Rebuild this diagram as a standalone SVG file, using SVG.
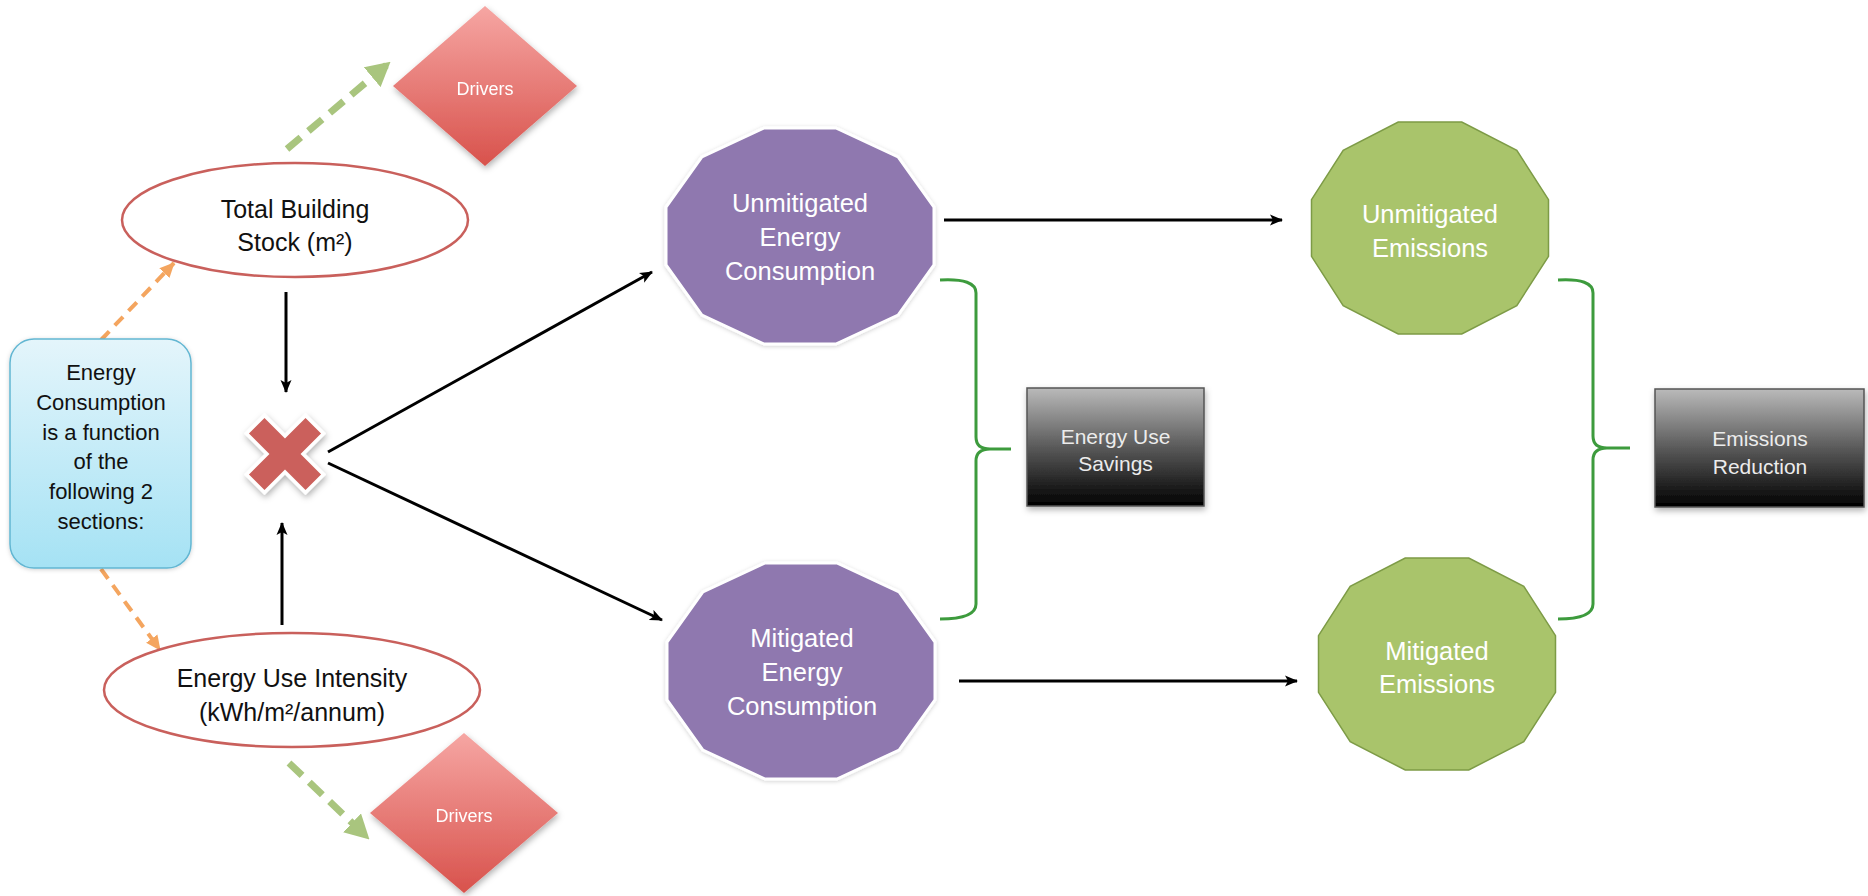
<svg xmlns="http://www.w3.org/2000/svg" xmlns:xlink="http://www.w3.org/1999/xlink" width="1868" height="896" viewBox="0 0 1868 896">
<defs>
  <style>
    .t { font-family: "Liberation Sans", Arial, sans-serif; text-anchor: middle; }
    .dark { fill: #111; font-size: 25px; }
    .blue { fill: #111; font-size: 22px; }
    .white { fill: #ffffff; font-size: 25.5px; }
    .drv { fill: #ffffff; font-size: 18px; }
    .box { fill: #ececec; font-size: 21px; }
    .ell { fill: #ffffff; stroke: #c9605c; stroke-width: 2.5; }
    .blk { stroke: #000; stroke-width: 3; fill: none; }
    .org { stroke: #f4a55f; stroke-width: 4; stroke-dasharray: 12 8; fill: none; }
    .grn { stroke: #a9c57e; stroke-width: 7; stroke-dasharray: 18 10; fill: none; }
    .brace { stroke: #3d9b3d; stroke-width: 3; fill: none; stroke-linejoin: round; }
    .purple { fill: #8f78af; stroke: #ffffff; stroke-width: 3; }
    .green { fill: #a9c46b; stroke: #7d9b46; stroke-width: 1.5; }
  </style>
  <linearGradient id="gDrv" x1="0" y1="0" x2="0" y2="1">
    <stop offset="0" stop-color="#f6a6a3"/>
    <stop offset="1" stop-color="#d8524c"/>
  </linearGradient>
  <linearGradient id="gBlue" x1="0" y1="0" x2="0" y2="1">
    <stop offset="0" stop-color="#e4f5fb"/>
    <stop offset="1" stop-color="#a5e2f4"/>
  </linearGradient>
  <linearGradient id="gBlack" x1="0" y1="0" x2="0" y2="1">
    <stop offset="0" stop-color="#bababa"/>
    <stop offset="0.5" stop-color="#5a5a5a"/>
    <stop offset="1" stop-color="#000000"/>
  </linearGradient>
  <filter id="shadow" x="-20%" y="-20%" width="140%" height="140%">
    <feDropShadow dx="1" dy="3" stdDeviation="3" flood-color="#000" flood-opacity="0.3"/>
  </filter>
  <filter id="soft" x="-20%" y="-20%" width="140%" height="140%">
    <feDropShadow dx="0" dy="1" stdDeviation="2" flood-color="#000" flood-opacity="0.18"/>
  </filter>
  <marker id="aBlk" markerUnits="userSpaceOnUse" markerWidth="14" markerHeight="12" refX="12" refY="6" orient="auto">
    <path d="M0,0.5 L13,6 L0,11.5 L3,6 z" fill="#000"/>
  </marker>
  <marker id="aOrg" markerUnits="userSpaceOnUse" markerWidth="16" markerHeight="16" refX="14" refY="8" orient="auto">
    <path d="M0,1 L15,8 L0,15 z" fill="#f4a55f"/>
  </marker>
  <marker id="aGrn" markerUnits="userSpaceOnUse" markerWidth="24" markerHeight="26" refX="22" refY="13" orient="auto">
    <path d="M0,0 L24,13 L0,26 z" fill="#a9c57e"/>
  </marker>
  <polygon id="dodecP" points="134,28.9 98.1,79.1 35.9,108 -35.9,108 -98.1,79.1 -134,28.9 -134,-28.9 -98.1,-79.1 -35.9,-108 35.9,-108 98.1,-79.1 134,-28.9"/>
  <polygon id="dodecG" points="118.5,28.4 86.8,77.6 31.8,106 -31.8,106 -86.8,77.6 -118.5,28.4 -118.5,-28.4 -86.8,-77.6 -31.8,-106 31.8,-106 86.8,-77.6 118.5,-28.4"/>
</defs>

<rect width="1868" height="896" fill="#ffffff"/>

<g id="connectors">
  <line class="grn" x1="287" y1="149" x2="389" y2="63" marker-end="url(#aGrn)"/>
  <line class="grn" x1="289" y1="763" x2="368" y2="838" marker-end="url(#aGrn)"/>
  <line class="org" x1="101" y1="340" x2="174" y2="263" marker-end="url(#aOrg)"/>
  <line class="org" x1="101" y1="569" x2="160" y2="650" marker-end="url(#aOrg)"/>
  <line class="blk" x1="286" y1="292" x2="286" y2="392" marker-end="url(#aBlk)"/>
  <line class="blk" x1="282" y1="625" x2="282" y2="523" marker-end="url(#aBlk)"/>
  <line class="blk" x1="328" y1="452" x2="652" y2="272" marker-end="url(#aBlk)"/>
  <line class="blk" x1="328" y1="463" x2="662" y2="620" marker-end="url(#aBlk)"/>
  <line class="blk" x1="944" y1="220" x2="1282" y2="220" marker-end="url(#aBlk)"/>
  <line class="blk" x1="959" y1="681" x2="1297" y2="681" marker-end="url(#aBlk)"/>
  <path class="brace" d="M940,280 Q976,278 976,293 L976,437 Q976,449 990,449 L1011,449 M990,449 Q976,449 976,461 L976,604 Q976,619 940,619"/>
  <path class="brace" d="M1558,280 Q1593,278 1593,293 L1593,436 Q1593,448 1607,448 L1630,448 M1607,448 Q1593,448 1593,460 L1593,604 Q1593,619 1558,619"/>
</g>

<g id="drivers-top" filter="url(#shadow)">
  <polygon points="485,6 577,86 485,166 393,86" fill="url(#gDrv)"/>
  <text class="t drv" x="485" y="95">Drivers</text>
</g>

<g id="total-building-stock">
  <ellipse class="ell" cx="295" cy="220" rx="173" ry="57"/>
  <text class="t dark" x="295" y="218">Total Building</text>
  <text class="t dark" x="295" y="251">Stock (m²)</text>
</g>

<g id="energy-consumption-note">
  <rect x="10" y="339" width="181" height="229" rx="24" fill="url(#gBlue)" stroke="#62b6d2" stroke-width="1.5" filter="url(#soft)"/>
  <text class="t blue" x="101" y="380">Energy</text>
  <text class="t blue" x="101" y="410">Consumption</text>
  <text class="t blue" x="101" y="440">is a function</text>
  <text class="t blue" x="101" y="469">of the</text>
  <text class="t blue" x="101" y="499">following 2</text>
  <text class="t blue" x="101" y="529">sections:</text>
</g>

<g id="multiply" filter="url(#shadow)">
  <path transform="translate(285,454) rotate(45)" d="M-11,-40 L11,-40 L11,-11 L40,-11 L40,11 L11,11 L11,40 L-11,40 L-11,11 L-40,11 L-40,-11 L-11,-11 Z" fill="#cb615b" stroke="#ffffff" stroke-width="7" stroke-linejoin="miter" paint-order="stroke"/>
</g>

<g id="energy-use-intensity">
  <ellipse class="ell" cx="292" cy="690" rx="188" ry="57"/>
  <text class="t dark" x="292" y="687">Energy Use Intensity</text>
  <text class="t dark" x="292" y="721">(kWh/m²/annum)</text>
</g>

<g id="drivers-bottom" filter="url(#shadow)">
  <polygon points="464,733 558,813 464,893 370,813" fill="url(#gDrv)"/>
  <text class="t drv" x="464" y="822">Drivers</text>
</g>

<g id="unmitigated-energy">
  <use href="#dodecP" x="800" y="236" class="purple" filter="url(#soft)"/>
  <text class="t white" x="800" y="212">Unmitigated</text>
  <text class="t white" x="800" y="246">Energy</text>
  <text class="t white" x="800" y="280">Consumption</text>
</g>

<g id="mitigated-energy">
  <use href="#dodecP" x="801" y="671" class="purple" filter="url(#soft)"/>
  <text class="t white" x="802" y="647">Mitigated</text>
  <text class="t white" x="802" y="681">Energy</text>
  <text class="t white" x="802" y="715">Consumption</text>
</g>

<g id="energy-use-savings">
  <rect x="1027" y="388" width="177" height="118" fill="url(#gBlack)" stroke="#555" stroke-width="1.5" filter="url(#shadow)"/>
  <text class="t box" x="1115.5" y="444">Energy Use</text>
  <text class="t box" x="1115.5" y="471">Savings</text>
</g>

<g id="unmitigated-emissions">
  <use href="#dodecG" x="1430" y="228" class="green"/>
  <text class="t white" x="1430" y="223">Unmitigated</text>
  <text class="t white" x="1430" y="257">Emissions</text>
</g>

<g id="mitigated-emissions">
  <use href="#dodecG" x="1437" y="664" class="green"/>
  <text class="t white" x="1437" y="660">Mitigated</text>
  <text class="t white" x="1437" y="693">Emissions</text>
</g>

<g id="emissions-reduction">
  <rect x="1655" y="389" width="209" height="118" fill="url(#gBlack)" stroke="#555" stroke-width="1.5" filter="url(#shadow)"/>
  <text class="t box" x="1760" y="446">Emissions</text>
  <text class="t box" x="1760" y="474">Reduction</text>
</g>
</svg>
